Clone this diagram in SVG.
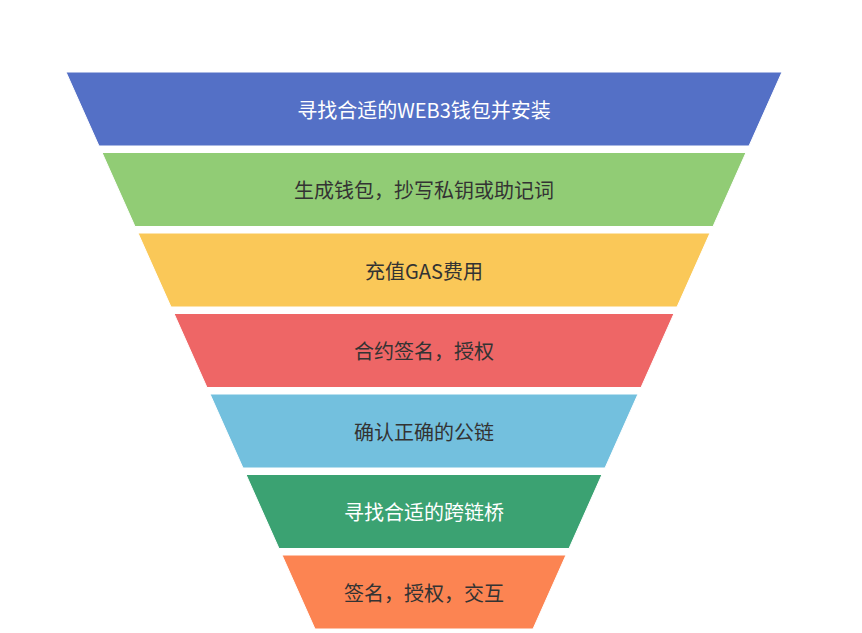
<svg xmlns="http://www.w3.org/2000/svg" width="862" height="633" viewBox="0 0 862 633">
<style>
text{font-family:"Noto Sans CJK SC","Liberation Sans",sans-serif;font-size:20px;text-anchor:middle;dominant-baseline:central;fill:#333}
.w{fill:#fff}
polygon{stroke:#fff;stroke-width:1}
</style>
<rect width="862" height="633" fill="#fff"/>
<g id="n1"><polygon points="66,72 782,72 749,146 99,146" fill="#5470c6"/><text x="424" y="109" class="w">寻找合适的WEB3钱包并安装</text></g>
<g id="n2"><polygon points="102,152.5 746,152.5 713,226.5 135,226.5" fill="#91cc75"/><text x="424" y="189.5">生成钱包，抄写私钥或助记词</text></g>
<g id="n3"><polygon points="138,233 710,233 677,307 171,307" fill="#fac858"/><text x="424" y="270">充值GAS费用</text></g>
<g id="n4"><polygon points="174,313.5 674,313.5 641,387.5 207,387.5" fill="#ee6666"/><text x="424" y="350.5">合约签名，授权</text></g>
<g id="n5"><polygon points="210,394 638,394 605,468 243,468" fill="#73c0de"/><text x="424" y="431">确认正确的公链</text></g>
<g id="n6"><polygon points="246,474.5 602,474.5 569,548.5 279,548.5" fill="#3ba272"/><text x="424" y="511.5" class="w">寻找合适的跨链桥</text></g>
<g id="n7"><polygon points="282,555 566,555 533,629 315,629" fill="#fc8452"/><text x="424" y="592">签名，授权，交互</text></g>
<g id="connectors"/>
</svg>
